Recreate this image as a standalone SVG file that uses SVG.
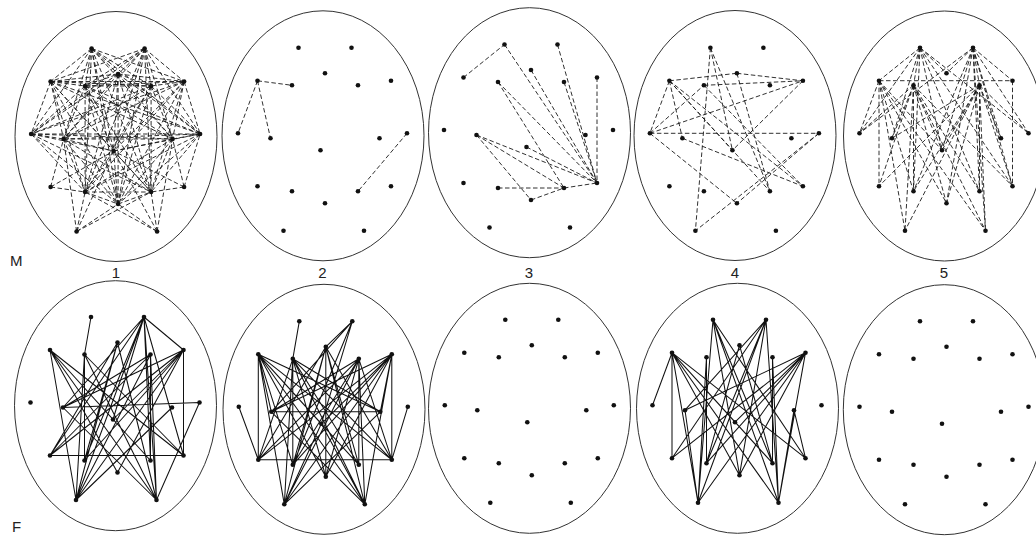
<svg xmlns="http://www.w3.org/2000/svg" xmlns:xlink="http://www.w3.org/1999/xlink" width="1036" height="536" viewBox="0 0 1036 536">
<style>
.head{fill:none;stroke:#333;stroke-width:1}
.dash{fill:none;stroke:#1a1a1a;stroke-width:.9;stroke-dasharray:4.5 2.5}
.solid{fill:none;stroke:#111;stroke-width:1.05}
.dots circle{fill:#111}
.lbl{font-family:"Liberation Sans",Arial,sans-serif;font-size:15px;fill:#222}
</style>
<defs>
<g id="electrodes" class="dots">
<circle cx="-24" cy="-88.5" r="2.3"/><circle cx="29" cy="-88.5" r="2.3"/>
<circle cx="-65" cy="-55.5" r="2.3"/><circle cx="-30.5" cy="-51" r="2.3"/><circle cx="2.5" cy="-63" r="2.3"/><circle cx="35.5" cy="-51" r="2.3"/><circle cx="68.5" cy="-55.5" r="2.3"/>
<circle cx="-84.5" cy="-3" r="2.3"/><circle cx="-52" cy="2" r="2.3"/><circle cx="-2" cy="14" r="2.3"/><circle cx="57" cy="2" r="2.3"/><circle cx="84.5" cy="-3" r="2.3"/>
<circle cx="-65" cy="50" r="2.3"/><circle cx="-30.5" cy="55" r="2.3"/><circle cx="2.5" cy="67" r="2.3"/><circle cx="35.5" cy="55" r="2.3"/><circle cx="68.5" cy="50" r="2.3"/>
<circle cx="-39" cy="94.5" r="2.3"/><circle cx="41.5" cy="94.5" r="2.3"/>
</g>
</defs>
<g id="connectors">
<path class="dash" transform="translate(115.6 137)" d="M-24 -88.5L-65 -55.5M-24 -88.5L-30.5 -51M-24 -88.5L2.5 -63M-24 -88.5L35.5 -51M-24 -88.5L68.5 -55.5M-24 -88.5L-84.5 -3M-24 -88.5L-52 2M-24 -88.5L-2 14M-24 -88.5L57 2M-24 -88.5L84.5 -3M-24 -88.5L-30.5 55M-24 -88.5L2.5 67M-24 -88.5L35.5 55M29 -88.5L-65 -55.5M29 -88.5L-30.5 -51M29 -88.5L2.5 -63M29 -88.5L35.5 -51M29 -88.5L68.5 -55.5M29 -88.5L-84.5 -3M29 -88.5L-52 2M29 -88.5L-2 14M29 -88.5L57 2M29 -88.5L84.5 -3M29 -88.5L-30.5 55M29 -88.5L2.5 67M29 -88.5L35.5 55M-65 -55.5L-30.5 -51M-65 -55.5L2.5 -63M-65 -55.5L35.5 -51M-65 -55.5L68.5 -55.5M-65 -55.5L-84.5 -3M-65 -55.5L-52 2M-65 -55.5L-2 14M-65 -55.5L57 2M-65 -55.5L84.5 -3M-65 -55.5L-30.5 55M-65 -55.5L2.5 67M-65 -55.5L35.5 55M-30.5 -51L2.5 -63M-30.5 -51L35.5 -51M-30.5 -51L68.5 -55.5M-30.5 -51L-84.5 -3M-30.5 -51L-52 2M-30.5 -51L-2 14M-30.5 -51L57 2M-30.5 -51L84.5 -3M-30.5 -51L-30.5 55M-30.5 -51L2.5 67M-30.5 -51L35.5 55M2.5 -63L35.5 -51M2.5 -63L68.5 -55.5M2.5 -63L-84.5 -3M2.5 -63L-52 2M2.5 -63L-2 14M2.5 -63L57 2M2.5 -63L84.5 -3M2.5 -63L-30.5 55M2.5 -63L2.5 67M2.5 -63L35.5 55M35.5 -51L68.5 -55.5M35.5 -51L-84.5 -3M35.5 -51L-52 2M35.5 -51L-2 14M35.5 -51L57 2M35.5 -51L84.5 -3M35.5 -51L-30.5 55M35.5 -51L2.5 67M35.5 -51L35.5 55M68.5 -55.5L-84.5 -3M68.5 -55.5L-52 2M68.5 -55.5L-2 14M68.5 -55.5L57 2M68.5 -55.5L84.5 -3M68.5 -55.5L-30.5 55M68.5 -55.5L2.5 67M68.5 -55.5L35.5 55M-84.5 -3L-52 2M-84.5 -3L-2 14M-84.5 -3L57 2M-84.5 -3L84.5 -3M-84.5 -3L-30.5 55M-84.5 -3L2.5 67M-84.5 -3L35.5 55M-52 2L-2 14M-52 2L57 2M-52 2L84.5 -3M-52 2L-30.5 55M-52 2L2.5 67M-52 2L35.5 55M-2 14L57 2M-2 14L84.5 -3M-2 14L-30.5 55M-2 14L2.5 67M-2 14L35.5 55M57 2L84.5 -3M57 2L-30.5 55M57 2L2.5 67M57 2L35.5 55M84.5 -3L-30.5 55M84.5 -3L2.5 67M84.5 -3L35.5 55M-30.5 55L2.5 67M-30.5 55L35.5 55M2.5 67L35.5 55M-65 50L-30.5 55M-65 50L-52 2M-65 50L-2 14M68.5 50L35.5 55M68.5 50L57 2M68.5 50L-2 14M68.5 50L84.5 -3M-39 94.5L-30.5 55M-39 94.5L2.5 67M-39 94.5L-52 2M-39 94.5L-2 14M-39 94.5L35.5 55M41.5 94.5L35.5 55M41.5 94.5L2.5 67M41.5 94.5L57 2M41.5 94.5L-2 14M41.5 94.5L-30.5 55"/>
<path class="dash" transform="translate(322.5 136.3)" d="M-65 -55.5L-30.5 -51M-65 -55.5L-84.5 -3M-65 -55.5L-52 2M84.5 -3L35.5 55"/>
<path class="dash" transform="translate(528.5 133)" d="M-65 -55.5L-24 -88.5M-24 -88.5L68.5 50M29 -88.5L68.5 50M68.5 -55.5L68.5 50M2.5 -63L68.5 50M-30.5 -51L68.5 50M-30.5 -51L35.5 55M35.5 -51L68.5 50M-52 2L68.5 50M-52 2L35.5 55M-52 2L2.5 67M-2 14L68.5 50M-30.5 55L35.5 55M2.5 67L35.5 55M35.5 55L68.5 50"/>
<path class="dash" transform="translate(734.4 136.3)" d="M-65 -55.5L2.5 -63M2.5 -63L68.5 -55.5M-30.5 -51L68.5 -55.5M-24 -88.5L-39 94.5M-24 -88.5L-2 14M-24 -88.5L35.5 55M-65 -55.5L-84.5 -3M-65 -55.5L-52 2M-65 -55.5L-2 14M-65 -55.5L35.5 55M-65 -55.5L68.5 50M-84.5 -3L84.5 -3M-84.5 -3L-30.5 -51M-84.5 -3L68.5 -55.5M-84.5 -3L2.5 67M84.5 -3L-39 94.5M84.5 -3L2.5 67M68.5 -55.5L-2 14M-52 2L68.5 50M2.5 -63L35.5 55M-30.5 -51L68.5 50"/>
<path class="dash" transform="translate(944 136.2)" d="M-65 -55.5L68.5 -55.5M-24 -88.5L-65 -55.5M-24 -88.5L-30.5 -51M-24 -88.5L2.5 -63M-24 -88.5L-84.5 -3M-24 -88.5L-52 2M-24 -88.5L-2 14M-24 -88.5L-30.5 55M-24 -88.5L35.5 55M-24 -88.5L84.5 -3M-24 -88.5L68.5 50M29 -88.5L2.5 -63M29 -88.5L35.5 -51M29 -88.5L68.5 -55.5M29 -88.5L41.5 94.5M29 -88.5L35.5 55M29 -88.5L2.5 67M29 -88.5L57 2M29 -88.5L84.5 -3M29 -88.5L68.5 50M29 -88.5L-2 14M29 -88.5L-30.5 55M29 -88.5L-84.5 -3M-65 -55.5L-65 50M-65 -55.5L-84.5 -3M-65 -55.5L-30.5 55M-65 -55.5L2.5 67M-65 -55.5L-39 94.5M-65 -55.5L-2 14M-65 -55.5L41.5 94.5M-30.5 -51L-30.5 55M-30.5 -51L-39 94.5M-30.5 -51L2.5 67M-30.5 -51L41.5 94.5M-30.5 -51L35.5 55M-30.5 -51L-2 14M-30.5 -51L-65 50M-30.5 -51L-52 2M-30.5 -51L68.5 50M-30.5 -51L-84.5 -3M35.5 -51L35.5 55M35.5 -51L41.5 94.5M35.5 -51L2.5 67M35.5 -51L-39 94.5M35.5 -51L-30.5 55M35.5 -51L68.5 50M35.5 -51L-2 14M35.5 -51L57 2M35.5 -51L84.5 -3M35.5 -51L-65 50M35.5 -51L-52 2M68.5 -55.5L68.5 50"/>
<path class="solid" transform="translate(115 405.5)" d="M-24 -88.5L-30.5 -51M29 -88.5L68.5 -55.5M29 -88.5L-65 50M29 -88.5L-30.5 55M29 -88.5L-39 94.5M29 -88.5L-52 2M29 -88.5L-2 14M29 -88.5L35.5 55M29 -88.5L41.5 94.5M29 -88.5L68.5 50M68.5 -55.5L-65 50M68.5 -55.5L-52 2M68.5 -55.5L-30.5 55M68.5 -55.5L-39 94.5M68.5 -55.5L-2 14M68.5 -55.5L2.5 67M68.5 -55.5L68.5 50M-65 -55.5L-39 94.5M-65 -55.5L35.5 55M-65 -55.5L68.5 50M-65 -55.5L2.5 67M-65 -55.5L-2 14M-65 -55.5L41.5 94.5M-30.5 -51L-30.5 55M-30.5 -51L41.5 94.5M-30.5 -51L68.5 50M-30.5 -51L-39 94.5M2.5 -63L-65 50M2.5 -63L-39 94.5M2.5 -63L-30.5 55M2.5 -63L41.5 94.5M35.5 -51L35.5 55M35.5 -51L-39 94.5M35.5 -51L-65 50M35.5 -51L41.5 94.5M35.5 -51L-52 2M-52 2L84.5 -3M-52 2L41.5 94.5M84.5 -3L41.5 94.5M-65 50L68.5 50M57 2L-39 94.5"/>
<path class="solid" transform="translate(323.3 409.8)" d="M-24 -88.5L-30.5 -51M29 -88.5L2.5 -63M29 -88.5L-2 14M29 -88.5L-30.5 55M29 -88.5L-52 2M-84.5 -3L-65 50M84.5 -3L68.5 50M-65 -55.5L-65 50M-65 -55.5L-30.5 55M-65 -55.5L-39 94.5M-65 -55.5L2.5 67M-65 -55.5L35.5 55M-65 -55.5L41.5 94.5M-65 -55.5L57 2M-65 -55.5L68.5 50M-65 -55.5L-2 14M-65 -55.5L-52 2M-30.5 -51L-30.5 55M-30.5 -51L-39 94.5M-30.5 -51L2.5 67M-30.5 -51L35.5 55M-30.5 -51L41.5 94.5M-30.5 -51L68.5 50M-30.5 -51L57 2M-30.5 -51L-65 50M2.5 -63L2.5 67M2.5 -63L-39 94.5M2.5 -63L41.5 94.5M2.5 -63L-30.5 55M2.5 -63L35.5 55M2.5 -63L-65 50M2.5 -63L68.5 50M35.5 -51L35.5 55M35.5 -51L-39 94.5M35.5 -51L41.5 94.5M35.5 -51L-30.5 55M35.5 -51L2.5 67M35.5 -51L-65 50M35.5 -51L-52 2M35.5 -51L68.5 50M68.5 -55.5L-39 94.5M68.5 -55.5L41.5 94.5M68.5 -55.5L-30.5 55M68.5 -55.5L2.5 67M68.5 -55.5L-52 2M68.5 -55.5L-65 50M68.5 -55.5L-2 14M68.5 -55.5L68.5 50M68.5 -55.5L57 2M-65 50L68.5 50M57 2L-39 94.5M-52 2L41.5 94.5M-2 14L-39 94.5M-2 14L41.5 94.5M-52 2L57 2"/>
<path class="solid" transform="translate(737 408.2)" d="M-65 -55.5L-84.5 -3M-65 -55.5L-65 50M-65 -55.5L-39 94.5M-65 -55.5L41.5 94.5M-65 -55.5L35.5 55M-65 -55.5L2.5 67M-65 -55.5L-2 14M-65 -55.5L68.5 50M-24 -88.5L-39 94.5M-24 -88.5L41.5 94.5M-24 -88.5L35.5 55M-24 -88.5L2.5 67M-24 -88.5L68.5 50M29 -88.5L-39 94.5M29 -88.5L41.5 94.5M29 -88.5L-30.5 55M29 -88.5L2.5 67M29 -88.5L-65 50M29 -88.5L-52 2M68.5 -55.5L-52 2M68.5 -55.5L-39 94.5M68.5 -55.5L41.5 94.5M68.5 -55.5L-30.5 55M68.5 -55.5L2.5 67M68.5 -55.5L-2 14M68.5 -55.5L-65 50M2.5 -63L-30.5 55M2.5 -63L35.5 55M-30.5 -51L-30.5 55M-30.5 -51L-39 94.5M35.5 -51L35.5 55M35.5 -51L41.5 94.5M57 2L68.5 50M-52 2L-39 94.5M57 2L41.5 94.5"/>
</g>
<g id="M1"><ellipse class="head" cx="116" cy="136.5" rx="101" ry="125"/><use xlink:href="#electrodes" href="#electrodes" transform="translate(115.6 137)"/></g>
<g id="M2"><ellipse class="head" cx="323" cy="135.8" rx="101" ry="125"/><use xlink:href="#electrodes" href="#electrodes" transform="translate(322.5 136.3)"/></g>
<g id="M3"><ellipse class="head" cx="529.5" cy="132.7" rx="101" ry="125"/><use xlink:href="#electrodes" href="#electrodes" transform="translate(528.5 133)"/></g>
<g id="M4"><ellipse class="head" cx="735" cy="135.5" rx="101" ry="125"/><use xlink:href="#electrodes" href="#electrodes" transform="translate(734.4 136.3)"/></g>
<g id="M5"><ellipse class="head" cx="944.5" cy="136" rx="101" ry="125"/><use xlink:href="#electrodes" href="#electrodes" transform="translate(944 136.2)"/></g>
<g id="F1"><ellipse class="head" cx="115.5" cy="405.7" rx="101" ry="125"/><use xlink:href="#electrodes" href="#electrodes" transform="translate(115 405.5)"/></g>
<g id="F2"><ellipse class="head" cx="324" cy="409.3" rx="101" ry="125"/><use xlink:href="#electrodes" href="#electrodes" transform="translate(323.3 409.8)"/></g>
<g id="F3"><ellipse class="head" cx="529.5" cy="408.3" rx="101" ry="125"/><use xlink:href="#electrodes" href="#electrodes" transform="translate(529.3 408.3)"/></g>
<g id="F4"><ellipse class="head" cx="737.5" cy="408.3" rx="101" ry="125"/><use xlink:href="#electrodes" href="#electrodes" transform="translate(737 408.2)"/></g>
<g id="F5"><ellipse class="head" cx="944.3" cy="409.7" rx="101" ry="125"/><use xlink:href="#electrodes" href="#electrodes" transform="translate(944 409.7)"/></g>
<g id="labels" class="lbl">
<text x="10" y="266">M</text>
<text x="12" y="532">F</text>
<text x="116" y="278" text-anchor="middle">1</text>
<text x="322.5" y="278" text-anchor="middle">2</text>
<text x="529" y="278" text-anchor="middle">3</text>
<text x="735" y="278" text-anchor="middle">4</text>
<text x="944" y="278" text-anchor="middle">5</text>
</g>
</svg>
